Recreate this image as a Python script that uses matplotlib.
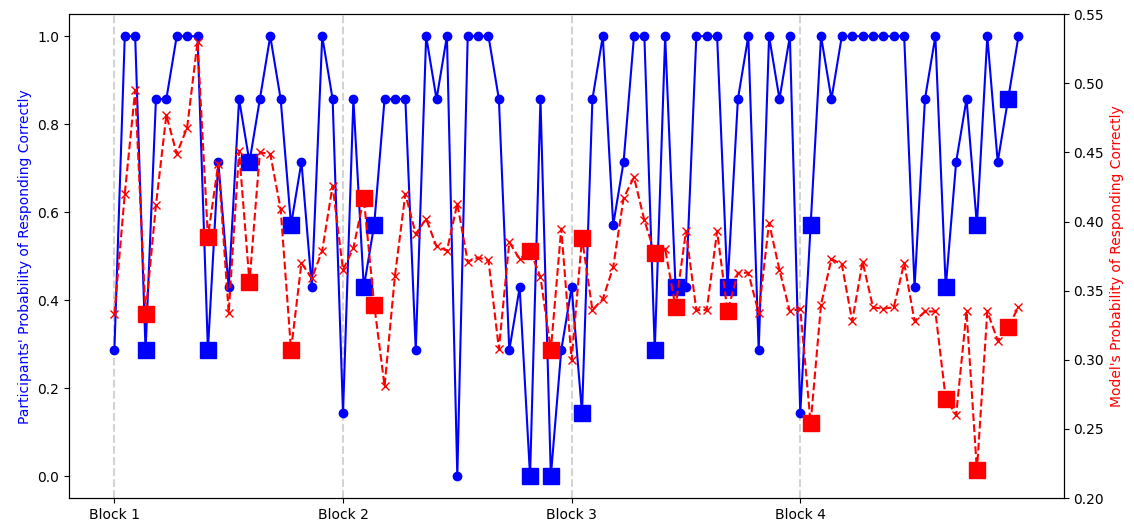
import matplotlib
matplotlib.use('Agg')
import matplotlib.pyplot as plt
import numpy as np

# participants' probability (proportion of 7 participants), one value per trial
participants = [0.286, 1.0, 1.0, 0.286, 0.857, 0.857, 1.0, 1.0, 1.0, 0.286,
                0.714, 0.429, 0.857, 0.714, 0.857, 1.0, 0.857, 0.571, 0.714, 0.429,
                1.0, 0.857, 0.143, 0.857, 0.429, 0.571, 0.857, 0.857, 0.857, 0.286,
                1.0, 0.857, 1.0, 0.0, 1.0, 1.0, 1.0, 0.857, 0.286, 0.429,
                0.0, 0.857, 0.0, 0.286, 0.429, 0.143, 0.857, 1.0, 0.571, 0.714,
                1.0, 1.0, 0.286, 1.0, 0.429, 0.429, 1.0, 1.0, 1.0, 0.429,
                0.857, 1.0, 0.286, 1.0, 0.857, 1.0, 0.143, 0.571, 1.0, 0.857,
                1.0, 1.0, 1.0, 1.0, 1.0, 1.0, 1.0, 0.429, 0.857, 1.0,
                0.429, 0.714, 0.857, 0.571, 1.0, 0.714, 0.857, 1.0]

# model's probability of responding correctly
model = [0.333, 0.420, 0.495, 0.333, 0.412, 0.477, 0.449, 0.468, 0.530, 0.389,
         0.442, 0.334, 0.451, 0.356, 0.450, 0.449, 0.409, 0.307, 0.370, 0.359,
         0.379, 0.426, 0.365, 0.381, 0.417, 0.340, 0.281, 0.361, 0.420, 0.391,
         0.402, 0.382, 0.379, 0.413, 0.371, 0.374, 0.372, 0.308, 0.385, 0.373,
         0.379, 0.360, 0.307, 0.395, 0.300, 0.388, 0.336, 0.344, 0.367, 0.417,
         0.432, 0.401, 0.377, 0.380, 0.338, 0.393, 0.336, 0.336, 0.393, 0.335,
         0.363, 0.363, 0.334, 0.399, 0.365, 0.335, 0.337, 0.254, 0.340, 0.373,
         0.369, 0.328, 0.371, 0.338, 0.337, 0.338, 0.370, 0.328, 0.335, 0.335,
         0.272, 0.260, 0.335, 0.220, 0.335, 0.314, 0.324, 0.338]

# highlighted trials (drawn as squares)
special = [3, 9, 13, 17, 24, 25, 40, 42, 45, 52, 54, 59, 67, 80, 83, 86]

block_starts = [0, 22, 44, 66]
block_labels = ['Block 1', 'Block 2', 'Block 3', 'Block 4']

trials = np.arange(len(participants))
part = np.array(participants)
mod = np.array(model)

fig, ax = plt.subplots(figsize=(11.34, 5.26), dpi=100)
fig.subplots_adjust(left=0.061, right=0.938, top=0.973, bottom=0.053)

for b in block_starts:
    ax.axvline(b, color='lightgray', linestyle='--', linewidth=1.5, zorder=0)

ax.plot(trials, part, 'bo-', markersize=6)
ax.plot(trials[special], part[special], 'bs', markersize=11)
ax.set_ylabel("Participants' Probability of Responding Correctly", color='blue')
ax.set_xticks(block_starts)
ax.set_xticklabels(block_labels)

ax2 = ax.twinx()
ax2.plot(trials, mod, 'rx--')
ax2.plot(trials[special], mod[special], 'rs', markersize=11)
ax2.set_ylim(0.2, 0.55)
ax2.set_ylabel("Model's Probability of Responding Correctly", color='red')

plt.savefig('out.png', dpi=100)
